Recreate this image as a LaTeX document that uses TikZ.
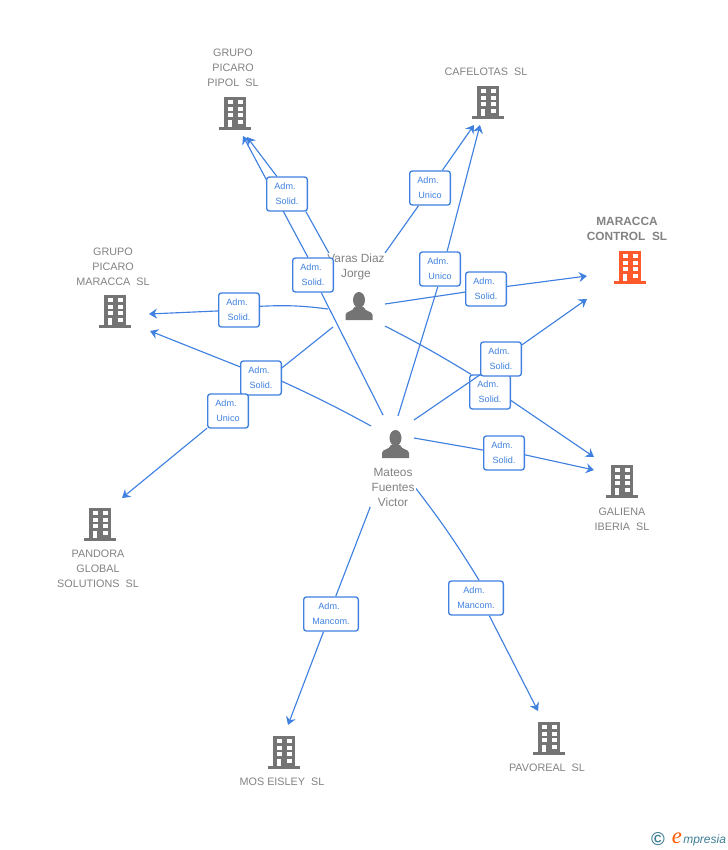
\documentclass[tikz,border=0pt]{standalone}
\usepackage{fontspec}
\setmainfont{Liberation Sans}
\newfontfamily\serifa{Liberation Serif}
\usetikzlibrary{arrows.meta}
\pgfdeclarelayer{fondo}
\pgfsetlayers{fondo,main}
\definecolor{azul}{HTML}{3F80E0}
\definecolor{gris}{HTML}{747474}
\definecolor{rotulo}{HTML}{828282}
\definecolor{naranja}{HTML}{FF5A2C}
\definecolor{verdoso}{HTML}{3E7F96}
\newcommand{\adm}{Adm.\hspace*{3pt}}
\tikzset{
	cargo/.style={draw=azul, line width=1pt, rounded corners=2pt, fill=white, text=azul, align=center,
		minimum width=30.5pt, minimum height=25.5pt, inner sep=0pt, font=\fontsize{6.8}{11.25}\selectfont},
	empresa/.style={text=rotulo, align=center, inner sep=0pt, font=\fontsize{8.1}{11.25}\selectfont},
	persona/.style={empresa, fill=white, inner sep=1pt},
	enlace/.style={azul, line width=0.85pt},
	flecha/.style={enlace, -{Stealth[length=6pt, width=7.5pt, inset=2pt]}},
	edificio/.pic={
		\fill[pic actions] (-11,-33) rectangle (11,-3);
		\fill[pic actions] (-16,-3) rectangle (16,0);
		\foreach \yy in {-30,-23.5,-17,-10.5} {
			\fill[white] (2.5,\yy) rectangle (7.5,\yy+4.3);
		}
		\foreach \yy in {-30,-23.5,-17} {
			\fill[white] (-7.5,\yy) rectangle (-2.5,\yy+4.3);
		}
		\fill[white] (-7,-10.5) rectangle (-3,-3);
	},
	silueta/.pic={
		\fill[pic actions] (0,-20) ellipse (6 and 8);
		\fill[pic actions] (-13.5,0) -- (-13.5,-5) .. controls (-13.5,-9) and (-6,-8) .. (-4.5,-13)
			-- (4.5,-13) .. controls (6,-8) and (13.5,-9) .. (13.5,-5) -- (13.5,0) -- cycle;
	}
}
\begin{document}
\begin{tikzpicture}[x=0.75pt, y=-0.75pt]
	\useasboundingbox (0,0) rectangle (728,850);

	% Empresas
	\pic[fill=gris] at (235,130) {edificio};
	\pic[fill=gris] at (488,119) {edificio};
	\pic[fill=naranja] at (630,284) {edificio};
	\pic[fill=gris] at (115,328) {edificio};
	\pic[fill=gris] at (622,498) {edificio};
	\pic[fill=gris] at (100,541) {edificio};
	\pic[fill=gris] at (284,769) {edificio};
	\pic[fill=gris] at (549,755) {edificio};
	\node[empresa] (pipol) at (233,67.5) {GRUPO\\PICARO\\PIPOL\ \ SL};
	\node[empresa] (cafelotas) at (486,71.5) {CAFELOTAS\ \ SL};
	\node[empresa, font=\fontsize{8.9}{11.25}\bfseries\selectfont] (maracca) at (627,228.5) {MARACCA\\CONTROL\ \ SL};
	\node[empresa] (picaro) at (113,266.5) {GRUPO\\PICARO\\MARACCA\ \ SL};
	\node[empresa] (galiena) at (622,519) {GALIENA\\IBERIA\ \ SL};
	\node[empresa] (pandora) at (98,568.5) {PANDORA\\GLOBAL\\SOLUTIONS\ \ SL};
	\node[empresa] (mos) at (282,781.5) {MOS EISLEY\ \ SL};
	\node[empresa] (pavoreal) at (547,767.5) {PAVOREAL\ \ SL};

	% Personas
	\pic[fill=gris] at (359,320) {silueta};
	\pic[fill=gris] at (395.5,458) {silueta};
	\node[persona, font=\fontsize{8.9}{11.25}\selectfont] (varas) at (356,267) {Varas Diaz\\Jorge};
	\node[persona, font=\fontsize{8.9}{11.25}\selectfont] (mateos) at (393,487) {Mateos\\Fuentes\\Victor};

	% Cargos
	\node[cargo] (c1) at (287,194) {\adm\\Solid.};
	\node[cargo] (c2) at (313,275) {\adm\\Solid.};
	\node[cargo] (c3) at (430,188) {\adm\\Unico};
	\node[cargo] (c4) at (440,269) {\adm\\Unico};
	\node[cargo] (c5) at (486,289) {\adm\\Solid.};
	\node[cargo] (c7) at (490,392) {\adm\\Solid.};
	\node[cargo] (c6) at (501,359) {\adm\\Solid.};
	\node[cargo] (c8) at (504,453) {\adm\\Solid.};
	\node[cargo] (c9) at (239,310) {\adm\\Solid.};
	\node[cargo] (c10) at (261,378) {\adm\\Solid.};
	\node[cargo] (c11) at (228,411) {\adm\\Unico};
	\node[cargo, minimum width=41pt] (c12) at (331,614) {\adm\\Mancom.};
	\node[cargo, minimum width=41pt] (c13) at (476,598) {\adm\\Mancom.};

	% Extremos
	\coordinate (vpipol) at (330,255);
	\coordinate (vcafe) at (385,253);
	\coordinate (vmara) at (385,304);
	\coordinate (vgali) at (385,326);
	\coordinate (vpica) at (328,309);
	\coordinate (vpand) at (333,327);
	\coordinate (mpipol) at (383,415);
	\coordinate (mcafe) at (398,416);
	\coordinate (mmara) at (414,420);
	\coordinate (mgali) at (414,438);
	\coordinate (mpica) at (371,426);
	\coordinate (mmos) at (371,505);
	\coordinate (mpavo) at (414,486);
	\coordinate (epipola) at (247,137);
	\coordinate (epipolb) at (243,136);
	\coordinate (ecafea) at (474,125);
	\coordinate (ecafeb) at (480,125);
	\coordinate (emaraa) at (587,276);
	\coordinate (emarab) at (587,299);
	\coordinate (egalia) at (594,457);
	\coordinate (egalib) at (594,470);
	\coordinate (epicaa) at (149,314);
	\coordinate (epicab) at (150,331);
	\coordinate (epand) at (122,498);
	\coordinate (emos) at (288,725);
	\coordinate (epavo) at (538,711);

	% Conexiones
	\begin{pgfonlayer}{fondo}
		\draw[enlace] (vpipol) -- (c1.-43);
		\draw[flecha] (c1.120) -- (epipola);
		\draw[enlace] (mpipol) -- (c2.-65);
		\draw[flecha] (c2.106) -- (epipolb);
		\draw[enlace] (vcafe) -- (c3.-123);
		\draw[flecha] (c3.55) -- (ecafea);
		\draw[enlace] (mcafe) -- (c4.-97);
		\draw[flecha] (c4.68) -- (ecafeb);
		\draw[enlace] (vmara) -- (c5);
		\draw[flecha] (c5.7) -- (emaraa);
		\draw[flecha] (c6.34) -- (emarab);
		\draw[enlace] (vgali) to[bend left=2] (c7.137);
		\draw[flecha] (c7.-22) -- (egalia);
		\draw[enlace] (mgali) -- (c8.172);
		\draw[flecha] (c8.-5) -- (egalib);
		\draw[enlace] (vpica) to[bend right=5] (c9.10);
		\draw[flecha] (c9) -- (epicaa);
		\draw[enlace] (mpica) to[bend right=2] (c10.-9);
		\draw[flecha] (c10.152) -- (epicab);
		\draw[enlace] (vpand) -- (c11);
		\draw[flecha] (c11) -- (epand);
		\draw[enlace] (mmos) -- (c12.-285);
		\draw[flecha] (c12.-113) -- (emos);
		\draw[enlace] (mpavo) to[bend left=3] (c13.80);
		\draw[flecha] (c13.-53) -- (epavo);
	\end{pgfonlayer}
	\draw[enlace] (mmara) -- (c6.-143);

	% Marca
	\node[text=verdoso, inner sep=0pt, font=\fontsize{14}{14}\bfseries\selectfont] (copy) at (658,839) {©};
	\node[text=orange!70!red, inner sep=0pt, font=\fontsize{17}{17}\serifa\itshape\selectfont] (marca) at (677,838.5) {e};
	\node[text=verdoso, inner sep=0pt, anchor=west, font=\fontsize{9}{10}\itshape\selectfont] (marcab) at (683,840) {mpresia};
\end{tikzpicture}
\end{document}
